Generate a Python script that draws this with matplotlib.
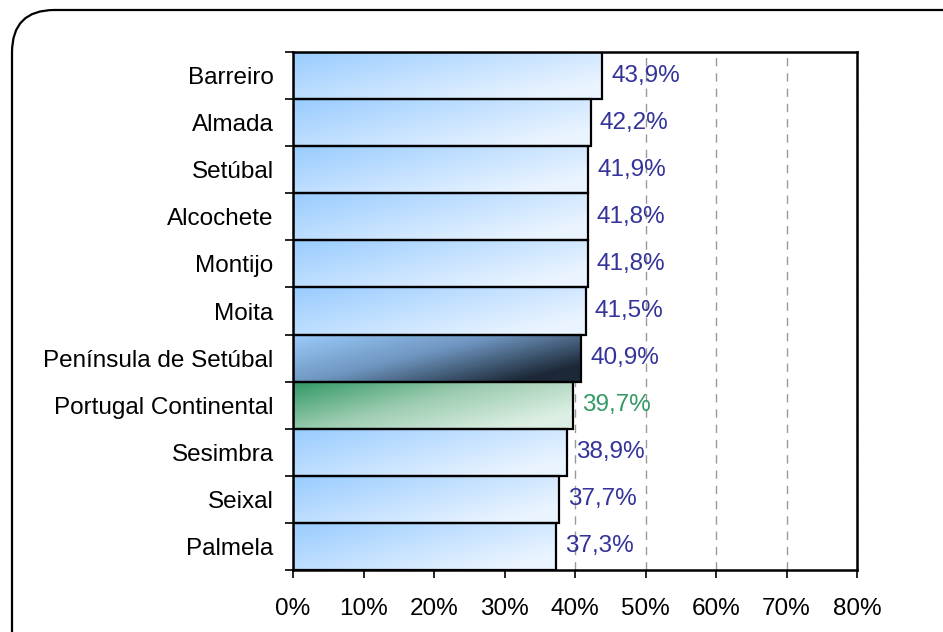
import numpy as np
import matplotlib
matplotlib.use('Agg')
import matplotlib.pyplot as plt
from matplotlib.colors import LinearSegmentedColormap
from matplotlib.patches import FancyBboxPatch, Rectangle

plt.rcParams['font.family'] = ['Liberation Sans', 'DejaVu Sans']

categories = ["Barreiro", "Almada", "Setúbal", "Alcochete", "Montijo", "Moita",
              "Península de Setúbal", "Portugal Continental", "Sesimbra",
              "Seixal", "Palmela"]
values = [43.9, 42.2, 41.9, 41.8, 41.8, 41.5, 40.9, 39.7, 38.9, 37.7, 37.3]
value_labels = ["43,9%", "42,2%", "41,9%", "41,8%", "41,8%", "41,5%",
                "40,9%", "39,7%", "38,9%", "37,7%", "37,3%"]
xticks = [0, 10, 20, 30, 40, 50, 60, 70, 80]

blue = LinearSegmentedColormap.from_list("blue", ["#99CCFF", "#EAF4FF"])
navy = LinearSegmentedColormap.from_list("navy", ["#9ACBFA", "#6E95BF", "#1C2838"])
green = LinearSegmentedColormap.from_list("green", ["#339966", "#9CCCB0", "#DDEFE4"])
styles = {"Península de Setúbal": (navy, "#333399"),
          "Portugal Continental": (green, "#339966")}

fig = plt.figure(figsize=(9.43, 6.32), dpi=100)
frame = FancyBboxPatch((12 / 943, -0.1), 1.1, 1.1 - 10 / 632,
                       boxstyle="round,pad=0,rounding_size=0.045",
                       transform=fig.transFigure, fill=False,
                       edgecolor="black", linewidth=1.6, mutation_aspect=943 / 632)
fig.add_artist(frame)

ax = fig.add_axes([293 / 943, 62 / 632, 564 / 943, 518 / 632])

n = len(categories)
gx, gy = np.meshgrid(np.linspace(0, 1, 64), np.linspace(0, 1, 16))
grad = np.clip(0.7 * gx + 0.45 * gy, 0, 1)

for i, (cat, val, lab) in enumerate(zip(categories, values, value_labels)):
    y = n - 1 - i
    cmap, tcol = styles.get(cat, (blue, "#333399"))
    im = ax.imshow(grad, cmap=cmap, aspect="auto", origin="upper",
                   extent=(0, val, y - 0.5, y + 0.5), zorder=2,
                   interpolation="bilinear")
    rect = Rectangle((0, y - 0.5), val, 1.0, facecolor="none",
                     edgecolor="black", linewidth=1.6, zorder=3)
    ax.add_patch(rect)
    im.set_clip_path(rect)
    ax.text(val + 1.3, y, lab, va="center", ha="left", fontsize=17.5,
            color=tcol, zorder=4)

ax.set_xlim(0, 80)
ax.set_ylim(-0.5, n - 0.5)
ax.set_xticks(xticks)
ax.set_xticklabels([f"{t}%" for t in xticks], fontsize=17.5)
ax.set_yticks(range(n))
ax.set_yticklabels(categories[::-1], fontsize=17.5)
ax.set_yticks(np.arange(-0.5, n, 1.0), minor=True)
ax.tick_params(axis="y", which="major", length=0, pad=14)
ax.tick_params(axis="y", which="minor", length=6, width=1.2)
ax.tick_params(axis="x", which="major", length=6, width=1.2, pad=14)
ax.xaxis.grid(True, linestyle=(0, (6, 5)), color="#999999", linewidth=1.0)
ax.set_axisbelow(True)
for s in ax.spines.values():
    s.set_linewidth(1.8)

fig.savefig("out.png", dpi=100)
